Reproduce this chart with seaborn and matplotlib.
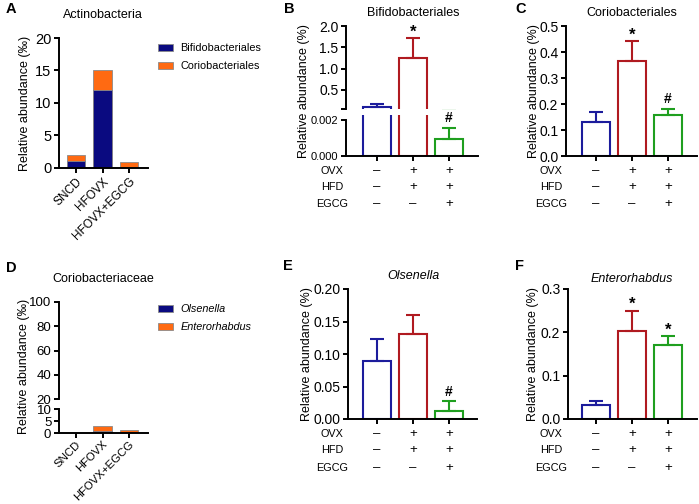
import matplotlib
matplotlib.use("Agg")
import matplotlib.pyplot as plt
import matplotlib.transforms as mtransforms
from matplotlib.patches import Patch
import pandas as pd
import seaborn as sns

# ── Data ──────────────────────────────────────────────────────────────────────

GROUPS = ["SNCD", "HFOVX", "HFOVX+EGCG"]

# stacked panels (‰)
A_BIFIDO = [1.0, 12.0, 0.05]
A_CORIO = [1.0, 3.0, 0.85]
D_OLSEN = [0.0, 0.85, 0.10]
D_ENTERO = [0.0, 2.05, 1.00]

# bar panels (%), mean and SEM
B_MEAN = [0.100, 1.24, 0.00094]
B_SEM = [0.067, 0.47, 0.00062]
C_MEAN = [0.131, 0.365, 0.158]
C_SEM = [0.038, 0.077, 0.023]
E_MEAN = [0.090, 0.131, 0.0128]
E_SEM = [0.033, 0.029, 0.0144]
F_MEAN = [0.033, 0.203, 0.170]
F_SEM = [0.009, 0.047, 0.021]

B_MARKS = ["", "*", "#"]
C_MARKS = ["", "*", "#"]
E_MARKS = ["", "", "#"]
F_MARKS = ["", "*", "*"]

ROW_NAMES = ["OVX", "HFD", "EGCG"]
OVX_SIGNS = ["–", "+", "+"]
HFD_SIGNS = ["–", "+", "+"]
EGCG_SIGNS = ["–", "–", "+"]

NAVY = "#0a0a80"
ORANGE = "#ff6a12"
BAR_COLORS = ["#1c1c9c", "#b01a20", "#1f9f1f"]
EDGE_GRAY = "#8a8a8a"

# ── Style ─────────────────────────────────────────────────────────────────────

W, H = 699, 504
sns.set_theme(style="ticks")
plt.rcParams.update({
    "font.family": ["Liberation Sans", "DejaVu Sans"],
    "axes.linewidth": 1.4,
    "axes.edgecolor": "black",
    "axes.labelcolor": "black",
    "text.color": "black",
    "xtick.color": "black", "ytick.color": "black",
    "xtick.major.width": 1.4, "ytick.major.width": 1.4,
    "xtick.major.size": 3.5, "ytick.major.size": 3.5,
    "xtick.major.pad": 2, "ytick.major.pad": 2,
    "xtick.labelsize": 10, "ytick.labelsize": 10,
})

fig = plt.figure(figsize=(W / 100, H / 100), dpi=100)


def px_rect(x0, y0, x1, y1):
    return [x0 / W, 1 - y1 / H, (x1 - x0) / W, (y1 - y0) / H]


def xlim_px(left, right, first, step):
    return (-(first - left) / step, 2 + (right - (first + 2 * step)) / step)


def finish(ax, xlim, bottom=True):
    sns.despine(ax=ax, bottom=not bottom)
    ax.set_xlim(*xlim)
    ax.set_xlabel("")
    ax.set_ylabel("")
    if bottom:
        ax.set_xticks(range(3))
        ax.set_xticklabels([])
    else:
        ax.tick_params(axis="x", bottom=False, labelbottom=False)


def draw_stacked(ax, lower, upper):
    totals = [a + b for a, b in zip(lower, upper)]
    sns.barplot(x=GROUPS, y=totals, color=ORANGE, saturation=1, width=0.68,
                edgecolor=EDGE_GRAY, linewidth=0.6, errorbar=None, ax=ax)
    sns.barplot(x=GROUPS, y=lower, color=NAVY, saturation=1, width=0.68,
                edgecolor=EDGE_GRAY, linewidth=0.6, errorbar=None, ax=ax)


def draw_bars(ax, means, sems):
    df = pd.DataFrame({"group": GROUPS, "value": means})
    sns.barplot(data=df, x="group", y="value", hue="group",
                palette=dict(zip(GROUPS, BAR_COLORS)), saturation=1,
                fill=False, linewidth=1.5, width=0.78, errorbar=None,
                legend=False, ax=ax)
    for i, (m, s, c) in enumerate(zip(means, sems, BAR_COLORS)):
        ax.errorbar(i, m, yerr=[[0], [s]], fmt="none", ecolor=c,
                    elinewidth=1.5, capsize=4.7, capthick=1.5, zorder=3)


def draw_marks(ax, means, sems, marks):
    lo, hi = ax.get_ylim()
    for i, (m, s, mk) in enumerate(zip(means, sems, marks)):
        top = m + s
        if mk and lo <= top <= hi:
            big = mk == "*"
            ax.annotate(mk, (i, top), xytext=(0, 4.5 if big else 6.8),
                        textcoords="offset points", ha="center", va="center",
                        fontsize=12 if big else 10, fontweight="bold")


def draw_rows(ax, label_x, row_ys):
    trans = mtransforms.blended_transform_factory(ax.transData, fig.transFigure)
    for name, signs, y in zip(ROW_NAMES, [OVX_SIGNS, HFD_SIGNS, EGCG_SIGNS], row_ys):
        fig.text(label_x / W, 1 - y / H, name, ha="center", va="center", fontsize=7.8)
        for i, s in enumerate(signs):
            ax.text(i, 1 - y / H, s, transform=trans, ha="center", va="center",
                    fontsize=9.5, clip_on=False)


def ylabel(x, yc, text):
    fig.text(x / W, 1 - yc / H, text, rotation=90, ha="center", va="center", fontsize=9)


def title(x, y, text, italic=False):
    fig.text(x / W, 1 - y / H, text, ha="center", va="baseline", fontsize=9,
             style="italic" if italic else "normal")


def letter(x, y, text):
    fig.text(x / W, 1 - y / H, text, ha="left", va="baseline", fontsize=10.5,
             fontweight="bold")


def legend(x, y, labels, italic=False):
    handles = [Patch(facecolor=c, edgecolor=EDGE_GRAY, linewidth=0.6, label=l)
               for c, l in zip([NAVY, ORANGE], labels)]
    fig.legend(handles=handles, loc="upper left", bbox_to_anchor=(x / W, 1 - y / H),
               frameon=False, prop={"size": 7.8, "style": "italic" if italic else "normal"},
               handlelength=1.4, handleheight=0.65, handletextpad=0.65,
               labelspacing=0.75, borderaxespad=0, borderpad=0)


def group_labels(ax, size):
    ax.set_xticklabels(GROUPS, rotation=45, ha="right", rotation_mode="anchor",
                       fontsize=size)


# ── A. Actinobacteria (stacked) ──────────────────────────────────────────────

xl = xlim_px(59, 148, 76, 26.5)
axA = fig.add_axes(px_rect(59, 38, 148, 168))
draw_stacked(axA, A_BIFIDO, A_CORIO)
finish(axA, xl)
axA.set_ylim(0, 20)
axA.set_yticks([0, 5, 10, 15, 20])
axA.tick_params(axis="y", labelsize=10.5)
group_labels(axA, 8.6)
ylabel(25, 103, "Relative abundance (‰)")
title(103, 18, "Actinobacteria")
letter(6, 13, "A")
legend(158, 43, ["Bifidobacteriales", "Coriobacteriales"])

# ── D. Coriobacteriaceae (stacked, broken axis) ──────────────────────────────

axDu = fig.add_axes(px_rect(59, 302, 148, 399))
draw_stacked(axDu, D_OLSEN, D_ENTERO)
finish(axDu, xl, bottom=False)
axDu.set_ylim(20, 100)
axDu.set_yticks([20, 40, 60, 80, 100])
axDu.tick_params(axis="y", labelsize=9.5)

axDl = fig.add_axes(px_rect(59, 409, 148, 433))
draw_stacked(axDl, D_OLSEN, D_ENTERO)
finish(axDl, xl)
axDl.set_ylim(0, 10)
axDl.set_yticks([0, 5, 10])
axDl.tick_params(axis="y", labelsize=9.5)
axDl.tick_params(axis="x", pad=1)
group_labels(axDl, 8.2)
ylabel(24, 366, "Relative abundance (‰)")
title(103, 282, "Coriobacteriaceae")
letter(6, 272, "D")
legend(158, 304, ["Olsenella", "Enterorhabdus"], italic=True)

# ── B. Bifidobacteriales (broken axis) ───────────────────────────────────────

xl = xlim_px(346, 478, 377, 36)
axBu = fig.add_axes(px_rect(346, 26, 478, 109))
draw_bars(axBu, B_MEAN, B_SEM)
finish(axBu, xl, bottom=False)
axBu.set_ylim(0.05, 2.0)
axBu.set_yticks([0.05, 0.5, 1.0, 1.5, 2.0])
axBu.set_yticklabels(["", "0.5", "1.0", "1.5", "2.0"])
draw_marks(axBu, B_MEAN, B_SEM, B_MARKS)

axBl = fig.add_axes(px_rect(346, 115, 478, 156))
draw_bars(axBl, B_MEAN, B_SEM)
finish(axBl, xl)
axBl.set_ylim(0, 0.002278)
axBl.spines["left"].set_bounds(0, 0.002)
axBl.set_yticks([0, 0.002])
axBl.set_yticklabels(["0.000", "0.002"])
axBl.tick_params(axis="y", labelsize=8)
draw_marks(axBl, B_MEAN, B_SEM, B_MARKS)
draw_rows(axBl, 332, [171, 187, 204])
ylabel(304, 91, "Relative abundance (%)")
title(413, 16, "Bifidobacteriales")
letter(284, 13, "B")

# ── C. Coriobacteriales ──────────────────────────────────────────────────────

axC = fig.add_axes(px_rect(566, 26, 697, 156))
draw_bars(axC, C_MEAN, C_SEM)
finish(axC, xlim_px(566, 697, 596, 36))
axC.set_ylim(0, 0.5)
axC.set_yticks([0, 0.1, 0.2, 0.3, 0.4, 0.5])
axC.set_yticklabels(["0.0", "0.1", "0.2", "0.3", "0.4", "0.5"])
draw_marks(axC, C_MEAN, C_SEM, C_MARKS)
draw_rows(axC, 551, [171, 187, 204])
ylabel(534, 91, "Relative abundance (%)")
title(632, 16, "Coriobacteriales")
letter(515, 13, "C")

# ── E. Olsenella ─────────────────────────────────────────────────────────────

axE = fig.add_axes(px_rect(348, 289, 477, 419))
draw_bars(axE, E_MEAN, E_SEM)
finish(axE, xlim_px(348, 477, 377, 36))
axE.set_ylim(0, 0.2)
axE.set_yticks([0, 0.05, 0.10, 0.15, 0.20])
axE.set_yticklabels(["0.00", "0.05", "0.10", "0.15", "0.20"])
draw_marks(axE, E_MEAN, E_SEM, E_MARKS)
draw_rows(axE, 332, [434, 450, 468])
ylabel(307, 354, "Relative abundance (%)")
title(413, 279, "Olsenella", italic=True)
letter(283, 270, "E")

# ── F. Enterorhabdus ─────────────────────────────────────────────────────────

axF = fig.add_axes(px_rect(568, 289, 697, 419))
draw_bars(axF, F_MEAN, F_SEM)
finish(axF, xlim_px(568, 697, 596, 36))
axF.set_ylim(0, 0.3)
axF.set_yticks([0, 0.1, 0.2, 0.3])
axF.set_yticklabels(["0.0", "0.1", "0.2", "0.3"])
draw_marks(axF, F_MEAN, F_SEM, F_MARKS)
draw_rows(axF, 551, [434, 450, 468])
ylabel(533, 354, "Relative abundance (%)")
title(632, 282, "Enterorhabdus", italic=True)
letter(515, 270, "F")

fig.savefig("out.png", dpi=100)
